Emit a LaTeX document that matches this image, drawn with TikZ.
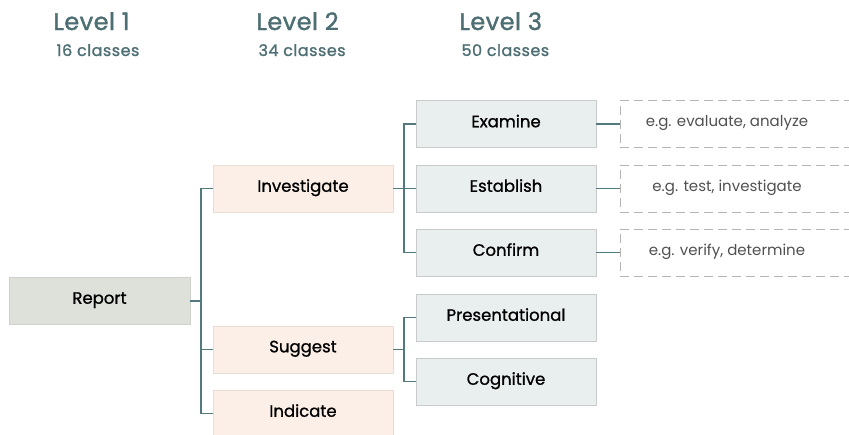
\documentclass[tikz,border=0pt]{standalone}
\usepackage{fontspec}
\setmainfont{Poppins}
\definecolor{teal}{HTML}{52797E}
\definecolor{head}{HTML}{4D6E73}
\definecolor{lone}{HTML}{DDE1DA}
\definecolor{ltwo}{HTML}{FCEFE7}
\definecolor{ltwob}{HTML}{E9DED6}
\definecolor{lthree}{HTML}{E9EEEE}
\definecolor{boxb}{HTML}{C9CBCB}
\definecolor{dashc}{HTML}{B5B5B5}
\definecolor{egtext}{HTML}{505050}
\tikzset{
  base/.style={rectangle, minimum width=180pt, minimum height=47pt, inner sep=0pt, font=\fontsize{16.5}{18}\selectfont\addfontfeatures{FakeBold=1}, text=black},
  lvone/.style={base, fill=lone, draw=lone!85!gray},
  lvtwo/.style={base, fill=ltwo, draw=ltwob},
  lvthree/.style={base, fill=lthree, draw=boxb},
  egbox/.style={rectangle, minimum width=240pt, minimum height=47pt, inner sep=0pt, draw=dashc, dash pattern=on 9pt off 5pt, font=\fontsize{15}{17}\selectfont, text=egtext},
  conn/.style={draw=teal, line width=1.3pt},
  hd/.style={anchor=base west, text=head, font=\fontsize{24}{27}\selectfont\addfontfeatures{LetterSpace=2,FakeBold=1.5}},
  sub/.style={anchor=base west, text=head, font=\fontsize{16}{18}\selectfont\addfontfeatures{LetterSpace=3,FakeBold=1.2}}
}
\newcommand{\up}[1]{\raisebox{6pt}{#1}}
\begin{document}
\begin{tikzpicture}[x=1pt,y=-1pt]
\useasboundingbox (0,0) rectangle (849,434);
\clip (0,0) rectangle (849,434);
\node[hd] (h1) at (50,30) {Level 1};
\node[sub] (s1) at (53,56) {16 classes};
\node[hd] (h2) at (253,30) {Level 2};
\node[sub] (s2) at (255,56) {34 classes};
\node[hd] (h3) at (456,30) {Level 3};
\node[sub] (s3) at (458,56) {50 classes};

\node[lvone, minimum width=181pt] (report) at (99.5,301) {\up{Report}};
\node[lvtwo] (inv) at (303,188.5) {\up{Investigate}};
\node[lvtwo] (sug) at (303,349.5) {\up{Suggest}};
\node[lvtwo] (ind) at (303,413.5) {\up{Indicate}};
\node[lvthree] (exa) at (506,124) {\up{Examine}};
\node[lvthree] (est) at (506,188.5) {\up{Establish}};
\node[lvthree] (con) at (506,252.5) {\up{Confirm}};
\node[lvthree] (pre) at (506,317.5) {\up{Presentational}};
\node[lvthree] (cog) at (506,381.5) {\up{Cognitive}};
\node[egbox] (eg1) at (740,124) {\hspace*{-26pt}\up{e.g. evaluate, analyze}};
\node[egbox] (eg2) at (740,188.5) {\hspace*{-26pt}\up{e.g. test, investigate}};
\node[egbox] (eg3) at (740,252.5) {\hspace*{-26pt}\up{e.g. verify, determine}};

\coordinate (t1) at (201,0);
\coordinate (t2) at (404,0);
\draw[conn] (report.east) -- (t1 |- report.east);
\draw[conn] (inv.west) -| (t1 |- report.east) |- (sug.west);
\draw[conn] (t1 |- sug.west) |- (ind.west);
\draw[conn] (inv.east) -- (est.west);
\draw[conn] (exa.west) -| (t2 |- inv.east) |- (con.west);
\draw[conn] (sug.east) -- (t2 |- sug.east);
\draw[conn] (pre.west) -| (t2 |- sug.east) |- (cog.west);
\draw[conn] (exa.east) -- (eg1.west);
\draw[conn] (est.east) -- (eg2.west);
\draw[conn] (con.east) -- (eg3.west);
\end{tikzpicture}
\end{document}
